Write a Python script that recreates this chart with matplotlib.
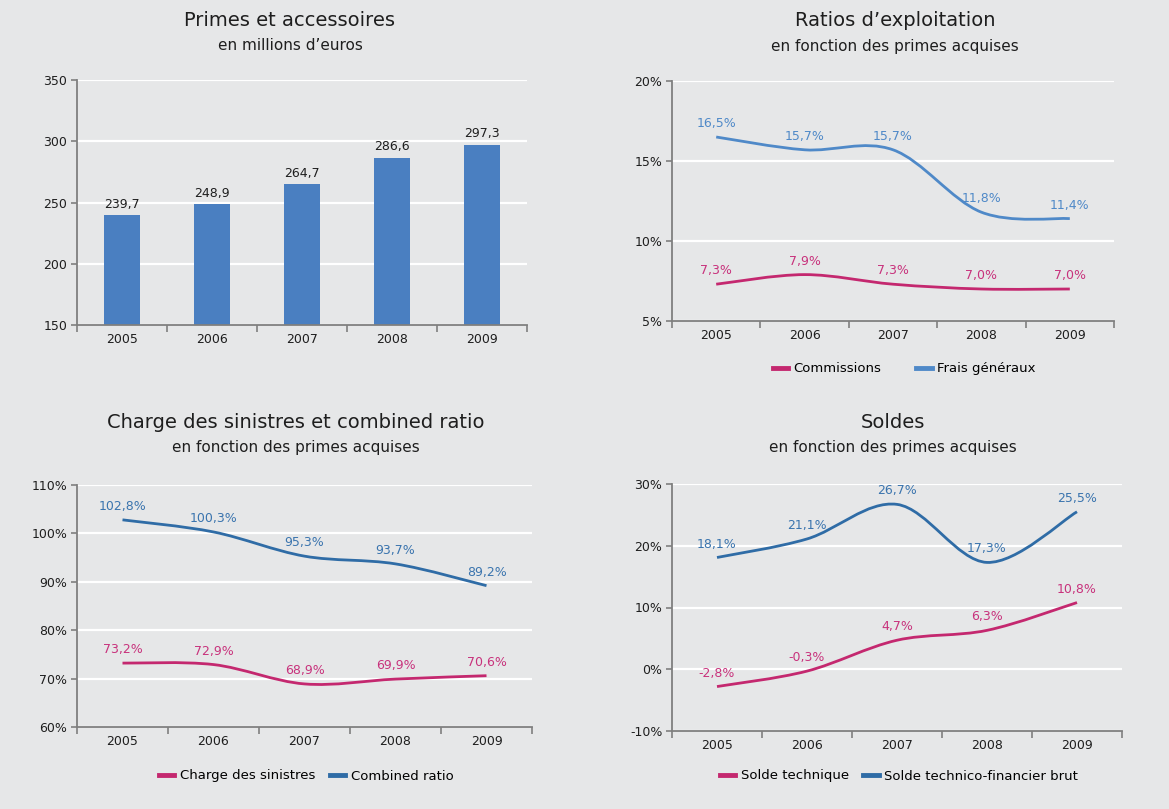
import matplotlib
matplotlib.use("Agg")
import matplotlib.pyplot as plt
from matplotlib.path import Path
from matplotlib.patches import PathPatch
from matplotlib.lines import Line2D

years = ["2005", "2006", "2007", "2008", "2009"]

# Primes et accessoires (millions d'euros)
primes = [239.7, 248.9, 264.7, 286.6, 297.3]

# Ratios d'exploitation (%)
commissions = [7.3, 7.9, 7.3, 7.0, 7.0]
frais_generaux = [16.5, 15.7, 15.7, 11.8, 11.4]

# Charge des sinistres et combined ratio (%)
charge_sinistres = [73.2, 72.9, 68.9, 69.9, 70.6]
combined_ratio = [102.8, 100.3, 95.3, 93.7, 89.2]

# Soldes (%)
solde_technique = [-2.8, -0.3, 4.7, 6.3, 10.8]
solde_tf_brut = [18.1, 21.1, 26.7, 17.3, 25.5]

W, H = 1169, 809
BG = "#e6e7e8"
BAR = "#4a7fc1"
PINK = "#c4286f"
PINK_TXT = "#c8327c"
BLUE_LIGHT = "#4f89c8"
BLUE_DARK = "#2f6ca6"
BLUE_DARK_TXT = "#3a74ae"
SPINE = "#7f7f7f"
TXT = "#1e1e1e"

plt.rcParams["font.family"] = ["DejaVu Sans"]

fig = plt.figure(figsize=(W / 100, H / 100), dpi=100, facecolor=BG)


def make_axes(left, right, top, bottom):
    ax = fig.add_axes([left / W, 1 - bottom / H, (right - left) / W, (bottom - top) / H])
    ax.set_facecolor(BG)
    for s in ("top", "right"):
        ax.spines[s].set_visible(False)
    for s in ("left", "bottom"):
        ax.spines[s].set_color(SPINE)
        ax.spines[s].set_linewidth(1.3)
    ax.yaxis.grid(True, color="white", linewidth=1.6)
    ax.set_axisbelow(True)
    ax.set_xlim(-0.5, len(years) - 0.5)
    ax.set_xticks([i - 0.5 for i in range(len(years) + 1)])
    ax.set_xticklabels([])
    ax.set_xticks(range(len(years)), minor=True)
    ax.set_xticklabels(years, minor=True)
    ax.tick_params(axis="x", which="major", length=5, color=SPINE, width=1.2)
    ax.tick_params(axis="x", which="minor", length=0, pad=6, labelsize=9, labelcolor=TXT)
    ax.tick_params(axis="y", length=4, color=SPINE, width=1.2, labelsize=9, labelcolor=TXT, pad=3)
    return ax


def smooth_line(ax, values, color, lw=2.0):
    # Catmull-Rom style bezier through the data points
    pts = list(zip(range(len(values)), values))
    verts = [pts[0]]
    codes = [Path.MOVETO]
    n = len(pts)
    for i in range(n - 1):
        p0 = pts[i - 1] if i > 0 else pts[i]
        p1 = pts[i]
        p2 = pts[i + 1]
        p3 = pts[i + 2] if i + 2 < n else pts[i + 1]
        c1 = (p1[0] + (p2[0] - p0[0]) / 6, p1[1] + (p2[1] - p0[1]) / 6)
        c2 = (p2[0] - (p3[0] - p1[0]) / 6, p2[1] - (p3[1] - p1[1]) / 6)
        verts += [c1, c2, p2]
        codes += [Path.CURVE4] * 3
    ax.add_patch(PathPatch(Path(verts, codes), facecolor="none", edgecolor=color,
                           linewidth=lw, capstyle="butt", zorder=3))


def point_labels(ax, values, color):
    for i, v in enumerate(values):
        ax.annotate(f"{v:.1f}".replace(".", ",") + "%", (i, v), xytext=(0, 5),
                    textcoords="offset points", ha="center", va="bottom",
                    fontsize=9, color=color)


def pct_fmt(vals):
    return [f"{v:g}%" for v in vals]


def titles(cx, y1, y2, t1, t2):
    fig.text(cx / W, 1 - y1 / H, t1, ha="center", va="center", fontsize=14, color=TXT)
    fig.text(cx / W, 1 - y2 / H, t2, ha="center", va="center", fontsize=11, color=TXT)


def legend(ax, cx, cy, labels, colors, spacing):
    handles = [Line2D([], [], color=c, linewidth=3.5) for c in colors]
    ax.legend(handles, labels, loc="center", bbox_to_anchor=(cx / W, 1 - cy / H),
              bbox_transform=fig.transFigure, ncol=2, frameon=False, fontsize=9.5,
              handlelength=1.2, handletextpad=0.4, columnspacing=spacing)


# Panel 1: bars
ax1 = make_axes(77, 527, 80, 325)
ax1.bar(range(len(years)), primes, width=0.4, color=BAR, zorder=2)
ax1.set_ylim(150, 350)
ax1.set_yticks([150, 200, 250, 300, 350])
for i, v in enumerate(primes):
    ax1.annotate(f"{v:.1f}".replace(".", ","), (i, v), xytext=(0, 3),
                 textcoords="offset points", ha="center", va="bottom",
                 fontsize=9, color=TXT)
titles(290, 21, 46, "Primes et accessoires", "en millions d\u2019euros")

# Panel 2: ratios d'exploitation
ax2 = make_axes(672, 1114, 81, 321)
ax2.set_ylim(5, 20)
ax2.set_yticks([5, 10, 15, 20])
ax2.set_yticklabels(pct_fmt([5, 10, 15, 20]))
smooth_line(ax2, commissions, PINK)
smooth_line(ax2, frais_generaux, BLUE_LIGHT)
point_labels(ax2, commissions, PINK_TXT)
point_labels(ax2, frais_generaux, BLUE_LIGHT)
titles(895, 21, 46, "Ratios d\u2019exploitation", "en fonction des primes acquises")
legend(ax2, 904, 369, ["Commissions", "Frais généraux"], [PINK, BLUE_LIGHT], 2.6)

# Panel 3: charge des sinistres
ax3 = make_axes(77, 532, 485, 727)
ax3.set_ylim(60, 110)
ax3.set_yticks([60, 70, 80, 90, 100, 110])
ax3.set_yticklabels(pct_fmt([60, 70, 80, 90, 100, 110]))
smooth_line(ax3, charge_sinistres, PINK)
smooth_line(ax3, combined_ratio, BLUE_DARK)
point_labels(ax3, charge_sinistres, PINK_TXT)
point_labels(ax3, combined_ratio, BLUE_DARK_TXT)
titles(296, 423, 447, "Charge des sinistres et combined ratio", "en fonction des primes acquises")
legend(ax3, 306, 776, ["Charge des sinistres", "Combined ratio"], [PINK, BLUE_DARK], 1.1)

# Panel 4: soldes
ax4 = make_axes(672, 1122, 484, 731)
ax4.set_ylim(-10, 30)
ax4.set_yticks([-10, 0, 10, 20, 30])
ax4.set_yticklabels(pct_fmt([-10, 0, 10, 20, 30]))
smooth_line(ax4, solde_technique, PINK)
smooth_line(ax4, solde_tf_brut, BLUE_DARK)
point_labels(ax4, solde_technique, PINK_TXT)
point_labels(ax4, solde_tf_brut, BLUE_DARK_TXT)
titles(893, 423, 447, "Soldes", "en fonction des primes acquises")
legend(ax4, 899, 776, ["Solde technique", "Solde technico-financier brut"], [PINK, BLUE_DARK], 1.1)

fig.savefig("out.png", dpi=100, facecolor=BG)
